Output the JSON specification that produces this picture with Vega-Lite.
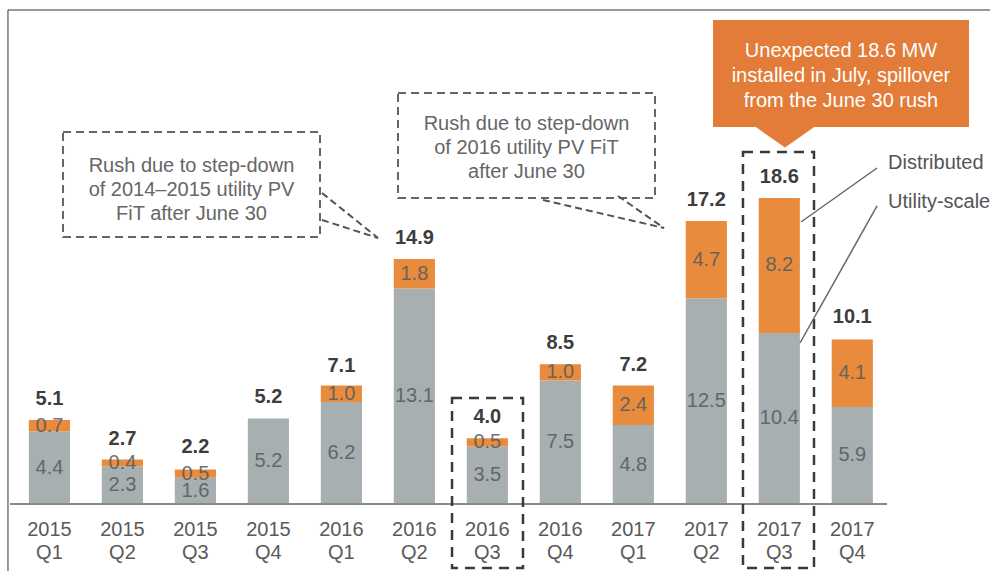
{
  "$schema": "https://vega.github.io/schema/vega-lite/v6.json",
  "width": 990,
  "height": 571,
  "padding": 0,
  "autosize": {"type": "none"},
  "background": "white",
  "config": {"view": {"stroke": null}, "text": {"font": "Liberation Sans"}},
  "datasets": {
    "installs": [
      {"quarter": "2015 Q1", "series": "Utility-scale", "value": 4.4},
      {"quarter": "2015 Q1", "series": "Distributed", "value": 0.7},
      {"quarter": "2015 Q2", "series": "Utility-scale", "value": 2.3},
      {"quarter": "2015 Q2", "series": "Distributed", "value": 0.4},
      {"quarter": "2015 Q3", "series": "Utility-scale", "value": 1.6},
      {"quarter": "2015 Q3", "series": "Distributed", "value": 0.5},
      {"quarter": "2015 Q4", "series": "Utility-scale", "value": 5.2},
      {"quarter": "2015 Q4", "series": "Distributed", "value": 0},
      {"quarter": "2016 Q1", "series": "Utility-scale", "value": 6.2},
      {"quarter": "2016 Q1", "series": "Distributed", "value": 1.0},
      {"quarter": "2016 Q2", "series": "Utility-scale", "value": 13.1},
      {"quarter": "2016 Q2", "series": "Distributed", "value": 1.8},
      {"quarter": "2016 Q3", "series": "Utility-scale", "value": 3.5},
      {"quarter": "2016 Q3", "series": "Distributed", "value": 0.5},
      {"quarter": "2016 Q4", "series": "Utility-scale", "value": 7.5},
      {"quarter": "2016 Q4", "series": "Distributed", "value": 1.0},
      {"quarter": "2017 Q1", "series": "Utility-scale", "value": 4.8},
      {"quarter": "2017 Q1", "series": "Distributed", "value": 2.4},
      {"quarter": "2017 Q2", "series": "Utility-scale", "value": 12.5},
      {"quarter": "2017 Q2", "series": "Distributed", "value": 4.7},
      {"quarter": "2017 Q3", "series": "Utility-scale", "value": 10.4},
      {"quarter": "2017 Q3", "series": "Distributed", "value": 8.2},
      {"quarter": "2017 Q4", "series": "Utility-scale", "value": 5.9},
      {"quarter": "2017 Q4", "series": "Distributed", "value": 4.1}
    ],
    "totals": [
      {"quarter": "2015 Q1", "total": 5.1},
      {"quarter": "2015 Q2", "total": 2.7},
      {"quarter": "2015 Q3", "total": 2.2},
      {"quarter": "2015 Q4", "total": 5.2},
      {"quarter": "2016 Q1", "total": 7.1},
      {"quarter": "2016 Q2", "total": 14.9},
      {"quarter": "2016 Q3", "total": 4.0},
      {"quarter": "2016 Q4", "total": 8.5},
      {"quarter": "2017 Q1", "total": 7.2},
      {"quarter": "2017 Q2", "total": 17.2},
      {"quarter": "2017 Q3", "total": 18.6},
      {"quarter": "2017 Q4", "total": 10.1}
    ]
  },
  "resolve": {"scale": {"x": "independent", "y": "independent"}},
  "layer": [
    {
      "layer": [
        {
          "data": {"name": "installs"},
          "transform": [
            {"stack": "value", "groupby": ["quarter"], "sort": [{"field": "series", "order": "descending"}], "as": ["s0", "s1"]}
          ],
          "layer": [
            {
              "mark": {"type": "bar"},
              "encoding": {
                "x": {"field": "quarter", "type": "nominal", "sort": null, "axis": null,
                  "scale": {"domain": ["2015 Q1","2015 Q2","2015 Q3","2015 Q4","2016 Q1","2016 Q2","2016 Q3","2016 Q4","2017 Q1","2017 Q2","2017 Q3","2017 Q4"], "paddingInner": 0.436, "paddingOuter": 1.027, "align": 0.1976}},
                "y": {"field": "s1", "type": "quantitative", "axis": null, "scale": {"domain": [-4.073, 30.638], "nice": false, "zero": false}},
                "y2": {"field": "s0"},
                "color": {"field": "series", "type": "nominal", "legend": null, "scale": {"domain": ["Utility-scale", "Distributed"], "range": ["#a7afb0", "#e98b3d"]}}
              }
            },
            {
              "transform": [
                {"filter": "datum.value > 0"},
                {"fold": ["s0", "s1"], "as": ["edge", "pos"]}
              ],
              "mark": {"type": "text", "fontSize": 20, "color": "#555b5e", "opacity": 0.85, "baseline": "middle", "align": "center"},
              "encoding": {
                "x": {"field": "quarter", "type": "nominal", "sort": null, "axis": null},
                "y": {"aggregate": "mean", "field": "pos", "type": "quantitative", "axis": null, "scale": {"domain": [-4.073, 30.638], "nice": false, "zero": false}},
                "detail": {"field": "series", "type": "nominal"},
                "text": {"field": "value", "type": "quantitative", "format": ".1f"}
              }
            }
          ]
        },
        {
          "data": {"name": "totals"},
          "mark": {"type": "text", "fontSize": 20, "fontWeight": "bold", "color": "#3d3d3d", "baseline": "alphabetic", "align": "center", "dy": -15},
          "encoding": {
            "x": {"field": "quarter", "type": "nominal", "sort": null, "axis": null},
            "y": {"field": "total", "type": "quantitative", "axis": null, "scale": {"domain": [-4.073, 30.638], "nice": false, "zero": false}},
            "text": {"field": "total", "type": "quantitative", "format": ".1f"}
          }
        },
        {
          "data": {"name": "totals"},
          "mark": {"type": "text", "fontSize": 20, "color": "#5a5a5a", "baseline": "top", "align": "center", "lineBreak": " ", "lineHeight": 23},
          "encoding": {
            "x": {"field": "quarter", "type": "nominal", "sort": null, "axis": null},
            "y": {"datum": -0.985, "type": "quantitative", "axis": null, "scale": {"domain": [-4.073, 30.638], "nice": false, "zero": false}},
            "text": {"field": "quarter", "type": "nominal"}
          }
        }
      ]
    },
    {
      "encoding": {
        "x": {"field": "x", "type": "quantitative", "axis": null, "scale": {"domain": [-0.6878, 12.93], "nice": false, "zero": false}},
        "y": {"field": "y", "type": "quantitative", "axis": null, "scale": {"domain": [-4.073, 30.638], "nice": false, "zero": false}}
      },
      "layer": [
        {
          "data": {"values": [
            {"x": -0.578, "y": 30.03, "x2": 12.93, "y2": 30.03},
            {"x": -0.578, "y": 30.03, "x2": -0.578, "y2": -4.073}
          ]},
          "mark": {"type": "rule", "color": "#333333", "strokeWidth": 1},
          "encoding": {"x2": {"field": "x2"}, "y2": {"field": "y2"}}
        },
        {
          "data": {"values": [{"x": -0.55, "y": 0, "x2": 11.513, "y2": 0}]},
          "mark": {"type": "rule", "color": "#8a8a8a", "strokeWidth": 2},
          "encoding": {"x2": {"field": "x2"}, "y2": {"field": "y2"}}
        },
        {
          "data": {"values": [
            {"x": 5.53, "x2": 6.506, "y": 6.444, "y2": -3.891},
            {"x": 9.532, "x2": 10.509, "y": 21.398, "y2": -3.891}
          ]},
          "mark": {"type": "rect", "filled": false, "stroke": "#3a3a3a", "strokeWidth": 2.5, "strokeDash": [10, 7]},
          "encoding": {"x2": {"field": "x2"}, "y2": {"field": "y2"}}
        },
        {
          "data": {"values": [
            {"x": 0.179, "x2": 3.714, "y": 22.614, "y2": 16.231},
            {"x": 4.787, "x2": 8.322, "y": 24.985, "y2": 18.602}
          ]},
          "mark": {"type": "rect", "filled": false, "stroke": "#666666", "strokeWidth": 2, "strokeDash": [8, 5]},
          "encoding": {"x2": {"field": "x2"}, "y2": {"field": "y2"}}
        },
        {
          "data": {"values": [
            {"x": 3.741, "y": 18.906, "x2": 4.512, "y2": 16.17},
            {"x": 3.741, "y": 17.264, "x2": 4.512, "y2": 16.17},
            {"x": 6.781, "y": 18.48, "x2": 8.446, "y2": 16.778},
            {"x": 7.813, "y": 18.723, "x2": 8.446, "y2": 16.778}
          ]},
          "mark": {"type": "rule", "color": "#555555", "strokeWidth": 2, "strokeDash": [7, 4]},
          "encoding": {"x2": {"field": "x2"}, "y2": {"field": "y2"}}
        },
        {
          "data": {"values": [
            {"x": 11.376, "y": 20.426, "x2": 10.33, "y2": 17.143},
            {"x": 11.376, "y": 18.116, "x2": 10.316, "y2": 9.787}
          ]},
          "mark": {"type": "rule", "color": "#666666", "strokeWidth": 1.5},
          "encoding": {"x2": {"field": "x2"}, "y2": {"field": "y2"}}
        },
        {
          "data": {"values": [{"x": 9.12, "x2": 12.641, "y": 29.422, "y2": 22.918}]},
          "mark": {"type": "rect", "color": "#e27c38"},
          "encoding": {"x2": {"field": "x2"}, "y2": {"field": "y2"}}
        },
        {
          "data": {"values": [{"x": 10.11, "y": 22.31}]},
          "mark": {"type": "point", "shape": "M-1,-0.35L1,-0.35L0,0.35Z", "size": 3600, "filled": true, "color": "#e27c38", "opacity": 1, "strokeWidth": 0}
        },
        {
          "data": {"values": [
            {"x": 1.946, "y": 21.143, "t": "Rush due to step-down\nof 2014–2015 utility PV\nFiT after June 30"},
            {"x": 6.554, "y": 23.696, "t": "Rush due to step-down\nof 2016 utility PV FiT\nafter June 30"}
          ]},
          "mark": {"type": "text", "fontSize": 20, "color": "#666666", "align": "center", "baseline": "top", "lineBreak": "\n", "lineHeight": 24},
          "encoding": {"text": {"field": "t"}}
        },
        {
          "data": {"values": [
            {"x": 10.88, "y": 28.134, "t": "Unexpected 18.6 MW\ninstalled in July, spillover\nfrom the June 30 rush"}
          ]},
          "mark": {"type": "text", "fontSize": 20, "color": "#ffffff", "align": "center", "baseline": "top", "lineBreak": "\n", "lineHeight": 25},
          "encoding": {"text": {"field": "t"}}
        },
        {
          "data": {"values": [
            {"x": 11.527, "y": 20.729, "t": "Distributed"},
            {"x": 11.527, "y": 18.359, "t": "Utility-scale"}
          ]},
          "mark": {"type": "text", "fontSize": 20, "color": "#555555", "align": "left", "baseline": "middle"},
          "encoding": {"text": {"field": "t"}}
        }
      ]
    }
  ]
}
